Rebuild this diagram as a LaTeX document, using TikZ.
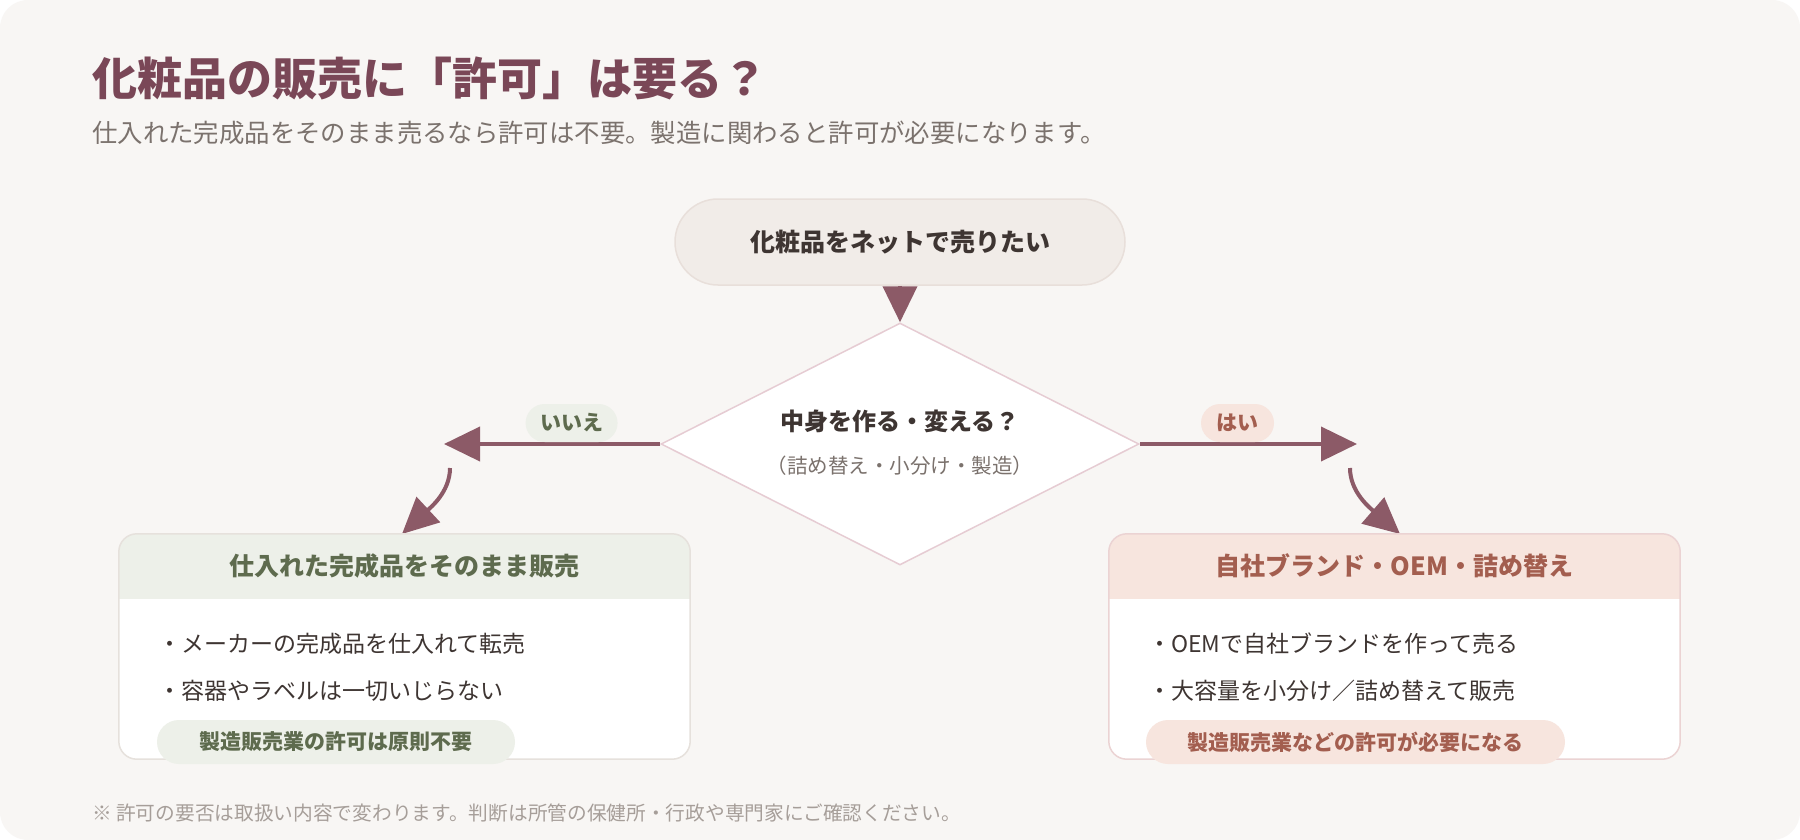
\documentclass[tikz,border=0pt]{standalone}
\usepackage{fontspec}
\setmainfont{Noto Sans CJK JP}
\usepackage{xcolor}
\usepackage{tikz}
\usetikzlibrary{arrows.meta,shapes.geometric,calc}

\definecolor{paper}{HTML}{F8F6F4}
\definecolor{titlecol}{HTML}{7A4757}
\definecolor{subgray}{HTML}{7B726D}
\definecolor{inkdark}{HTML}{3E3532}
\definecolor{arrowcol}{HTML}{8C5A67}
\definecolor{pillfill}{HTML}{F1ECE8}
\definecolor{pilledge}{HTML}{E8DFDA}
\definecolor{diaedge}{HTML}{E6CCD3}
\definecolor{greenfill}{HTML}{EDF0E9}
\definecolor{greentext}{HTML}{5E6B4E}
\definecolor{greenedge}{HTML}{E6E1DC}
\definecolor{rosefill}{HTML}{F7E5DE}
\definecolor{rosetext}{HTML}{A35E4F}
\definecolor{roseedge}{HTML}{EBD3D3}
\definecolor{footgray}{HTML}{A69E99}

\begin{document}
\begin{tikzpicture}[x=1pt, y=-1pt, every node/.style={inner sep=0pt},
    arr/.style={draw=arrowcol, line width=4pt, -{Triangle[length=36pt,width=34pt]}},
    pill/.style={draw=pilledge, fill=pillfill, line width=1.5pt, rounded corners=43pt,
        minimum width=450pt, minimum height=86pt, text=inkdark,
        font=\bfseries\fontsize{25}{30}\selectfont},
    answer/.style={rounded corners=19pt, minimum height=38pt, anchor=south,
        font=\bfseries\fontsize{21}{24}\selectfont},
    card/.style={fill=white, rounded corners=18pt, minimum width=571pt, minimum height=225pt},
    hdrtext/.style={font=\bfseries\fontsize{25}{30}\selectfont},
    bullet/.style={anchor=west, text=inkdark, font=\fontsize{23}{28}\selectfont},
    tag/.style={rounded corners=22pt, minimum height=44pt,
        font=\bfseries\fontsize{21}{24}\selectfont}]

    % Background
    \useasboundingbox (0,0) rectangle (1800,840);
    \fill[white] (0,0) rectangle (1800,840);
    \fill[paper, rounded corners=28pt] (0,0) rectangle (1800,840);

    % Title
    \node[anchor=west, text=titlecol, font=\bfseries\fontsize{45}{52}\selectfont] (title) at (92,78)
        {化粧品の販売に「許可」は要る？};
    \node[anchor=west, text=subgray, font=\fontsize{25.4}{30}\selectfont] (subtitle) at (92,133)
        {仕入れた完成品をそのまま売るなら許可は不要。製造に関わると許可が必要になります。};

    % Start and decision
    \node[pill] (start) at (900,242) {化粧品をネットで売りたい};
    \node[shape=diamond, draw=diaedge, fill=white, line width=1.5pt,
        minimum width=478pt, minimum height=242pt] (dec) at (900,444) {};
    \node[text=inkdark, font=\bfseries\fontsize{24}{28}\selectfont] (q1) at (900,421) {中身を作る・変える？};
    \node[text=subgray, font=\fontsize{20.5}{24}\selectfont] (q2) at (900,466) {（詰め替え・小分け・製造）};
    \draw[arr] (start.south) -- (dec.north);

    % Branches
    \coordinate (noend) at (444,444);
    \coordinate (yesend) at (1357,444);
    \draw[arr] (dec.west) -- node[answer, pos=0.41, fill=greenfill, text=greentext,
        minimum width=92pt] (nolabel) {いいえ} (noend);
    \draw[arr] (dec.east) -- node[answer, pos=0.45, fill=rosefill, text=rosetext,
        minimum width=73pt] (yeslabel) {はい} (yesend);

    \coordinate (nobend) at (450,468);
    \coordinate (notip) at (402,534);
    \coordinate (yesbend) at (1350,468);
    \coordinate (yestip) at (1400,534);
    \draw[arr] (nobend) .. controls (450,492) and (430,508) .. (notip);
    \draw[arr] (yesbend) .. controls (1350,492) and (1370,508) .. (yestip);

    % Left card: no permit
    \node[card] (nobox) at (404.5,646.5) {};
    \begin{scope}
        \clip[rounded corners=18pt] (nobox.north west) rectangle (nobox.south east);
        \fill[greenfill] (nobox.north west) rectangle ($(nobox.north east)+(0,65)$);
    \end{scope}
    \draw[greenedge, line width=1.5pt, rounded corners=18pt] (nobox.north west) rectangle (nobox.south east);
    \node[hdrtext, text=greentext] (nohead) at ($(nobox.north)+(0,32)$) {仕入れた完成品をそのまま販売};
    \node[bullet] (no1) at (158,644) {・メーカーの完成品を仕入れて転売};
    \node[bullet] (no2) at (158,691) {・容器やラベルは一切いじらない};
    \node[tag, fill=greenfill, text=greentext, minimum width=358pt] (notag) at (336,742)
        {製造販売業の許可は原則不要};

    % Right card: permit needed
    \node[card] (yesbox) at (1394.5,646.5) {};
    \begin{scope}
        \clip[rounded corners=18pt] (yesbox.north west) rectangle (yesbox.south east);
        \fill[rosefill] (yesbox.north west) rectangle ($(yesbox.north east)+(0,65)$);
    \end{scope}
    \draw[roseedge, line width=1.5pt, rounded corners=18pt] (yesbox.north west) rectangle (yesbox.south east);
    \node[hdrtext, text=rosetext] (yeshead) at ($(yesbox.north)+(0,32)$) {自社ブランド・OEM・詰め替え};
    \node[bullet] (yes1) at (1148,644) {・OEMで自社ブランドを作って売る};
    \node[bullet] (yes2) at (1148,691) {・大容量を小分け／詰め替えて販売};
    \node[tag, fill=rosefill, text=rosetext, minimum width=419pt] (yestag) at (1355.5,742)
        {製造販売業などの許可が必要になる};

    % Footnote
    \node[anchor=west, text=footgray, font=\fontsize{19.7}{23}\selectfont] (foot) at (92,813)
        {※ 許可の要否は取扱い内容で変わります。判断は所管の保健所・行政や専門家にご確認ください。};
\end{tikzpicture}
\end{document}
